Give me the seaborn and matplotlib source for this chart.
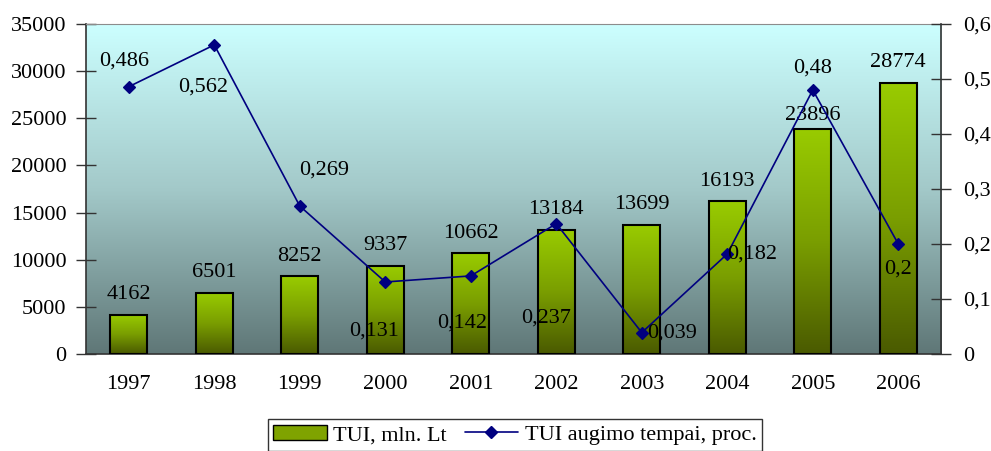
import numpy as np
import pandas as pd
import seaborn as sns
import matplotlib.pyplot as plt
import matplotlib.ticker as ticker
from matplotlib.colors import LinearSegmentedColormap
from matplotlib.patches import Patch
from matplotlib.lines import Line2D

years = ['1997', '1998', '1999', '2000', '2001', '2002', '2003', '2004', '2005', '2006']
tui = [4162, 6501, 8252, 9337, 10662, 13184, 13699, 16193, 23896, 28774]
growth = [0.486, 0.562, 0.269, 0.131, 0.142, 0.237, 0.039, 0.182, 0.48, 0.2]
growth_labels = ['0,486', '0,562', '0,269', '0,131', '0,142', '0,237', '0,039', '0,182', '0,48', '0,2']
bar_name = 'TUI, mln. Lt'
line_name = 'TUI augimo tempai, proc.'

# label offsets in pixels (excel put them all over the place)
bar_lbl_off = [20, 20, 20, 20, 20, 20, 20, 20, 13, 20]
line_lbl_off = [(-5, 26), (-11, -42), (24, 36), (-11, -49), (-9, -47),
                (-10, -94), (30, 0), (25, 0), (0, 22), (0, -25)]

df = pd.DataFrame({'year': years, 'tui': tui, 'growth': growth})

sns.set_style('white')
plt.rcParams['font.family'] = ['Liberation Serif', 'DejaVu Serif']
plt.rcParams['text.color'] = 'black'
plt.rcParams['xtick.labelcolor'] = 'black'
plt.rcParams['ytick.labelcolor'] = 'black'
fs = 16

fig = plt.figure(figsize=(9.91, 4.51), dpi=100)
ax = fig.add_axes([0.0868, 0.215, 0.9496 - 0.0868, 0.9468 - 0.215])

# background gradient
bg = LinearSegmentedColormap.from_list('bg', ['#5f7777', '#a3c9c9', '#ccffff'])
grad = np.linspace(0, 1, 256).reshape(-1, 1)
ax.imshow(grad, cmap=bg, aspect='auto', extent=[0, 1, 0, 1], origin='lower',
          transform=ax.transAxes, zorder=0)

sns.barplot(data=df, x='year', y='tui', ax=ax, width=0.43, color='#99cc00',
            edgecolor='black', linewidth=1.5, zorder=2)

barcm = LinearSegmentedColormap.from_list('bar', ['#4a5a00', '#7a9e00', '#99cc00'])
for p, off, v in zip(ax.patches, bar_lbl_off, tui):
    x0, y0, w, h = p.get_x(), p.get_y(), p.get_width(), p.get_height()
    im = ax.imshow(grad, cmap=barcm, aspect='auto', extent=[x0, x0 + w, y0, y0 + h],
                   origin='lower', zorder=2)
    im.set_clip_path(p)
    p.set_facecolor('none')
    p.set_zorder(3)
    ax.annotate(str(v), (x0 + w / 2, y0 + h), xytext=(0, off), textcoords='offset pixels',
                ha='center', va='center', fontsize=fs, zorder=5)

ax.set_xlim(-0.5, 9.5)
ax.set_ylim(0, 35000)
ax.yaxis.set_major_locator(ticker.MultipleLocator(5000))
ax.set_xlabel('')
ax.set_ylabel('')
ax.xaxis.set_minor_locator(ticker.FixedLocator(np.arange(-0.5, 10, 1)))
ax.tick_params(axis='x', which='major', length=0, labelsize=fs, pad=15)
ax.tick_params(axis='x', which='minor', length=14, direction='inout', width=1, color='#333333')
ax.tick_params(axis='y', length=14, direction='inout', width=1, labelsize=fs, pad=7,
               left=True, color='#333333')
for s in ['left', 'bottom']:
    ax.spines[s].set_color('#333333')
    ax.spines[s].set_linewidth(1.2)
ax.spines['top'].set_color('#8c8c8c')
ax.spines['right'].set_visible(False)

ax2 = ax.twinx()
sns.pointplot(data=df, x='year', y='growth', ax=ax2, color='#000080', markers='D',
              linestyles='-', linewidth=1.2, markersize=6.5)
ax2.set_xlim(-0.5, 9.5)
ax2.set_ylim(0, 0.6)
ax2.yaxis.set_major_locator(ticker.MultipleLocator(0.1))
ax2.yaxis.set_major_formatter(ticker.FuncFormatter(lambda v, pos: ('%g' % round(v, 2)).replace('.', ',')))
ax2.set_ylabel('')
ax2.tick_params(axis='y', length=14, direction='inout', width=1, labelsize=fs, pad=9,
                right=True, color='#333333')
for s in ['left', 'top', 'bottom']:
    ax2.spines[s].set_visible(False)
ax2.spines['right'].set_color('#333333')
ax2.spines['right'].set_linewidth(1.2)

pts = ax2.lines[0].get_xydata()
for (px, py), lbl, (dx, dy) in zip(pts, growth_labels, line_lbl_off):
    ax2.annotate(lbl, (px, py), xytext=(dx, dy), textcoords='offset pixels',
                 ha='center', va='center', fontsize=fs)

handles = [Patch(facecolor='#7fa300', edgecolor='black', linewidth=1),
           Line2D([], [], color='#000080', marker='D', markersize=6.5, linewidth=1.2)]
leg = fig.legend(handles, [bar_name, line_name], loc='upper center', ncol=2,
                 bbox_to_anchor=(515 / 991, 1 - 419 / 451), fontsize=fs, frameon=True,
                 fancybox=False, handlelength=2.4, handletextpad=0.3, columnspacing=0.8,
                 borderpad=0.25, borderaxespad=0)
leg.get_frame().set_edgecolor('black')
leg.get_frame().set_linewidth(1)

fig.savefig('out.png', dpi=100)
